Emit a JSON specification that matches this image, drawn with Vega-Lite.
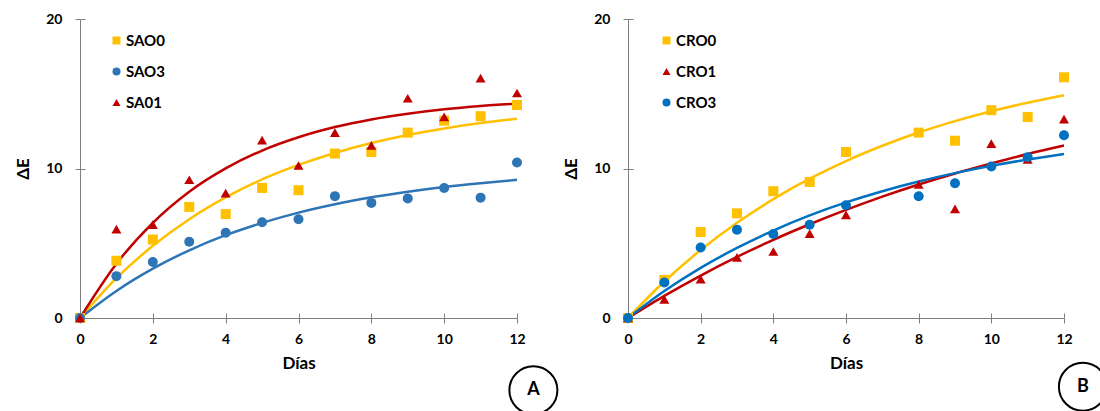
{
  "$schema": "https://vega.github.io/schema/vega-lite/v6.json",
  "background": "white",
  "padding": {"left": 14, "top": 12, "right": 0, "bottom": 0},
  "bounds": "flush",
  "spacing": 111,
  "config": {
    "font": "Lato",
    "view": {"stroke": null},
    "axis": {"grid": false, "domainColor": "#7f7f7f", "tickColor": "#7f7f7f", "labelColor": "black", "titleColor": "black", "labelFontWeight": "bold", "titleFontWeight": "bold"},
    "legend": {"title": null, "labelFontSize": 15, "labelFontWeight": "bold", "labelColor": "black", "symbolSize": 64, "rowPadding": 15, "labelOffset": 2, "symbolStrokeWidth": 0}
  },
  "datasets": {
    "pts": [
      {"panel": "A", "series": "SAO0", "day": 0, "val": 0},
      {"panel": "A", "series": "SAO0", "day": 1, "val": 3.83},
      {"panel": "A", "series": "SAO0", "day": 2, "val": 5.25},
      {"panel": "A", "series": "SAO0", "day": 3, "val": 7.43},
      {"panel": "A", "series": "SAO0", "day": 4, "val": 6.95},
      {"panel": "A", "series": "SAO0", "day": 5, "val": 8.7},
      {"panel": "A", "series": "SAO0", "day": 6, "val": 8.55},
      {"panel": "A", "series": "SAO0", "day": 7, "val": 11.0},
      {"panel": "A", "series": "SAO0", "day": 8, "val": 11.1},
      {"panel": "A", "series": "SAO0", "day": 9, "val": 12.4},
      {"panel": "A", "series": "SAO0", "day": 10, "val": 13.2},
      {"panel": "A", "series": "SAO0", "day": 11, "val": 13.5},
      {"panel": "A", "series": "SAO0", "day": 12, "val": 14.25},
      {"panel": "A", "series": "SAO3", "day": 0, "val": 0},
      {"panel": "A", "series": "SAO3", "day": 1, "val": 2.8},
      {"panel": "A", "series": "SAO3", "day": 2, "val": 3.75},
      {"panel": "A", "series": "SAO3", "day": 3, "val": 5.1},
      {"panel": "A", "series": "SAO3", "day": 4, "val": 5.7},
      {"panel": "A", "series": "SAO3", "day": 5, "val": 6.4},
      {"panel": "A", "series": "SAO3", "day": 6, "val": 6.6},
      {"panel": "A", "series": "SAO3", "day": 7, "val": 8.15},
      {"panel": "A", "series": "SAO3", "day": 8, "val": 7.7},
      {"panel": "A", "series": "SAO3", "day": 9, "val": 8.0},
      {"panel": "A", "series": "SAO3", "day": 10, "val": 8.7},
      {"panel": "A", "series": "SAO3", "day": 11, "val": 8.05},
      {"panel": "A", "series": "SAO3", "day": 12, "val": 10.4},
      {"panel": "A", "series": "SA01", "day": 0, "val": 0},
      {"panel": "A", "series": "SA01", "day": 1, "val": 5.95},
      {"panel": "A", "series": "SA01", "day": 2, "val": 6.25},
      {"panel": "A", "series": "SA01", "day": 3, "val": 9.25},
      {"panel": "A", "series": "SA01", "day": 4, "val": 8.35},
      {"panel": "A", "series": "SA01", "day": 5, "val": 11.9},
      {"panel": "A", "series": "SA01", "day": 6, "val": 10.2},
      {"panel": "A", "series": "SA01", "day": 7, "val": 12.4},
      {"panel": "A", "series": "SA01", "day": 8, "val": 11.55},
      {"panel": "A", "series": "SA01", "day": 9, "val": 14.7},
      {"panel": "A", "series": "SA01", "day": 10, "val": 13.45},
      {"panel": "A", "series": "SA01", "day": 11, "val": 16.05},
      {"panel": "A", "series": "SA01", "day": 12, "val": 15.05},
      {"panel": "B", "series": "CRO0", "day": 0, "val": 0},
      {"panel": "B", "series": "CRO0", "day": 1, "val": 2.55},
      {"panel": "B", "series": "CRO0", "day": 2, "val": 5.75},
      {"panel": "B", "series": "CRO0", "day": 3, "val": 7.0},
      {"panel": "B", "series": "CRO0", "day": 4, "val": 8.48},
      {"panel": "B", "series": "CRO0", "day": 5, "val": 9.1},
      {"panel": "B", "series": "CRO0", "day": 6, "val": 11.1},
      {"panel": "B", "series": "CRO0", "day": 8, "val": 12.4},
      {"panel": "B", "series": "CRO0", "day": 9, "val": 11.86},
      {"panel": "B", "series": "CRO0", "day": 10, "val": 13.9},
      {"panel": "B", "series": "CRO0", "day": 11, "val": 13.44},
      {"panel": "B", "series": "CRO0", "day": 12, "val": 16.1},
      {"panel": "B", "series": "CRO1", "day": 0, "val": 0},
      {"panel": "B", "series": "CRO1", "day": 1, "val": 1.25},
      {"panel": "B", "series": "CRO1", "day": 2, "val": 2.6},
      {"panel": "B", "series": "CRO1", "day": 3, "val": 4.05},
      {"panel": "B", "series": "CRO1", "day": 4, "val": 4.45},
      {"panel": "B", "series": "CRO1", "day": 5, "val": 5.64},
      {"panel": "B", "series": "CRO1", "day": 6, "val": 6.9},
      {"panel": "B", "series": "CRO1", "day": 8, "val": 8.93},
      {"panel": "B", "series": "CRO1", "day": 9, "val": 7.3},
      {"panel": "B", "series": "CRO1", "day": 10, "val": 11.66},
      {"panel": "B", "series": "CRO1", "day": 11, "val": 10.6},
      {"panel": "B", "series": "CRO1", "day": 12, "val": 13.3},
      {"panel": "B", "series": "CRO3", "day": 0, "val": 0},
      {"panel": "B", "series": "CRO3", "day": 1, "val": 2.37},
      {"panel": "B", "series": "CRO3", "day": 2, "val": 4.72},
      {"panel": "B", "series": "CRO3", "day": 3, "val": 5.9},
      {"panel": "B", "series": "CRO3", "day": 4, "val": 5.62},
      {"panel": "B", "series": "CRO3", "day": 5, "val": 6.24},
      {"panel": "B", "series": "CRO3", "day": 6, "val": 7.54},
      {"panel": "B", "series": "CRO3", "day": 8, "val": 8.14},
      {"panel": "B", "series": "CRO3", "day": 9, "val": 9.01},
      {"panel": "B", "series": "CRO3", "day": 10, "val": 10.13},
      {"panel": "B", "series": "CRO3", "day": 11, "val": 10.76},
      {"panel": "B", "series": "CRO3", "day": 12, "val": 12.23}
    ],
    "fit": [
      {"panel": "A", "series": "SAO0", "day": 0, "val": 0},
      {"panel": "A", "series": "SAO0", "day": 1, "val": 2.66},
      {"panel": "A", "series": "SAO0", "day": 2, "val": 4.83},
      {"panel": "A", "series": "SAO0", "day": 3, "val": 6.61},
      {"panel": "A", "series": "SAO0", "day": 4, "val": 8.07},
      {"panel": "A", "series": "SAO0", "day": 5, "val": 9.27},
      {"panel": "A", "series": "SAO0", "day": 6, "val": 10.24},
      {"panel": "A", "series": "SAO0", "day": 7, "val": 11.04},
      {"panel": "A", "series": "SAO0", "day": 8, "val": 11.7},
      {"panel": "A", "series": "SAO0", "day": 9, "val": 12.24},
      {"panel": "A", "series": "SAO0", "day": 10, "val": 12.68},
      {"panel": "A", "series": "SAO0", "day": 11, "val": 13.04},
      {"panel": "A", "series": "SAO0", "day": 12, "val": 13.33},
      {"panel": "A", "series": "SAO3", "day": 0, "val": 0},
      {"panel": "A", "series": "SAO3", "day": 1, "val": 1.81},
      {"panel": "A", "series": "SAO3", "day": 2, "val": 3.3},
      {"panel": "A", "series": "SAO3", "day": 3, "val": 4.53},
      {"panel": "A", "series": "SAO3", "day": 4, "val": 5.54},
      {"panel": "A", "series": "SAO3", "day": 5, "val": 6.36},
      {"panel": "A", "series": "SAO3", "day": 6, "val": 7.05},
      {"panel": "A", "series": "SAO3", "day": 7, "val": 7.61},
      {"panel": "A", "series": "SAO3", "day": 8, "val": 8.07},
      {"panel": "A", "series": "SAO3", "day": 9, "val": 8.45},
      {"panel": "A", "series": "SAO3", "day": 10, "val": 8.77},
      {"panel": "A", "series": "SAO3", "day": 11, "val": 9.02},
      {"panel": "A", "series": "SAO3", "day": 12, "val": 9.24},
      {"panel": "A", "series": "SA01", "day": 0, "val": 0},
      {"panel": "A", "series": "SA01", "day": 1, "val": 3.63},
      {"panel": "A", "series": "SA01", "day": 2, "val": 6.37},
      {"panel": "A", "series": "SA01", "day": 3, "val": 8.45},
      {"panel": "A", "series": "SA01", "day": 4, "val": 10.01},
      {"panel": "A", "series": "SA01", "day": 5, "val": 11.2},
      {"panel": "A", "series": "SA01", "day": 6, "val": 12.09},
      {"panel": "A", "series": "SA01", "day": 7, "val": 12.77},
      {"panel": "A", "series": "SA01", "day": 8, "val": 13.28},
      {"panel": "A", "series": "SA01", "day": 9, "val": 13.66},
      {"panel": "A", "series": "SA01", "day": 10, "val": 13.96},
      {"panel": "A", "series": "SA01", "day": 11, "val": 14.18},
      {"panel": "A", "series": "SA01", "day": 12, "val": 14.34},
      {"panel": "B", "series": "CRO0", "day": 0, "val": 0},
      {"panel": "B", "series": "CRO0", "day": 1, "val": 2.44},
      {"panel": "B", "series": "CRO0", "day": 2, "val": 4.55},
      {"panel": "B", "series": "CRO0", "day": 3, "val": 6.37},
      {"panel": "B", "series": "CRO0", "day": 4, "val": 7.95},
      {"panel": "B", "series": "CRO0", "day": 5, "val": 9.32},
      {"panel": "B", "series": "CRO0", "day": 6, "val": 10.5},
      {"panel": "B", "series": "CRO0", "day": 7, "val": 11.52},
      {"panel": "B", "series": "CRO0", "day": 8, "val": 12.41},
      {"panel": "B", "series": "CRO0", "day": 9, "val": 13.17},
      {"panel": "B", "series": "CRO0", "day": 10, "val": 13.83},
      {"panel": "B", "series": "CRO0", "day": 11, "val": 14.4},
      {"panel": "B", "series": "CRO0", "day": 12, "val": 14.9},
      {"panel": "B", "series": "CRO1", "day": 0, "val": 0},
      {"panel": "B", "series": "CRO1", "day": 1, "val": 1.48},
      {"panel": "B", "series": "CRO1", "day": 2, "val": 2.84},
      {"panel": "B", "series": "CRO1", "day": 3, "val": 4.09},
      {"panel": "B", "series": "CRO1", "day": 4, "val": 5.23},
      {"panel": "B", "series": "CRO1", "day": 5, "val": 6.27},
      {"panel": "B", "series": "CRO1", "day": 6, "val": 7.23},
      {"panel": "B", "series": "CRO1", "day": 7, "val": 8.12},
      {"panel": "B", "series": "CRO1", "day": 8, "val": 8.93},
      {"panel": "B", "series": "CRO1", "day": 9, "val": 9.67},
      {"panel": "B", "series": "CRO1", "day": 10, "val": 10.34},
      {"panel": "B", "series": "CRO1", "day": 11, "val": 10.97},
      {"panel": "B", "series": "CRO1", "day": 12, "val": 11.54},
      {"panel": "B", "series": "CRO3", "day": 0, "val": 0},
      {"panel": "B", "series": "CRO3", "day": 1, "val": 1.8},
      {"panel": "B", "series": "CRO3", "day": 2, "val": 3.35},
      {"panel": "B", "series": "CRO3", "day": 3, "val": 4.69},
      {"panel": "B", "series": "CRO3", "day": 4, "val": 5.85},
      {"panel": "B", "series": "CRO3", "day": 5, "val": 6.86},
      {"panel": "B", "series": "CRO3", "day": 6, "val": 7.73},
      {"panel": "B", "series": "CRO3", "day": 7, "val": 8.48},
      {"panel": "B", "series": "CRO3", "day": 8, "val": 9.13},
      {"panel": "B", "series": "CRO3", "day": 9, "val": 9.69},
      {"panel": "B", "series": "CRO3", "day": 10, "val": 10.18},
      {"panel": "B", "series": "CRO3", "day": 11, "val": 10.6},
      {"panel": "B", "series": "CRO3", "day": 12, "val": 10.97}
    ]
  },
  "hconcat": [
    {
      "width": 437,
      "height": 299,
      "resolve": {"axis": {"x": "independent", "y": "independent"}},
      "layer": [
        {
          "data": {"name": "fit"},
          "transform": [{"filter": "datum.panel === 'A' && datum.series === 'SAO0'"}],
          "mark": {"type": "line", "strokeWidth": 2.5, "interpolate": "monotone", "color": "#FFC000"},
          "encoding": {
            "x": {"field": "day", "type": "quantitative", "scale": {"domain": [0, 12], "nice": false},
              "axis": {"orient": "bottom", "values": [0, 2, 4, 6, 8, 10, 12], "title": "Días", "titleFontSize": 17, "titlePadding": 9, "labelFontSize": 14, "labelPadding": 9, "tickSize": 5, "labelFlush": false}},
            "y": {"field": "val", "type": "quantitative", "scale": {"domain": [0, 20], "nice": false},
              "axis": {"orient": "left", "values": [0, 10, 20], "title": "ΔE", "titleFontSize": 17, "titlePadding": 13, "labelFontSize": 14, "labelPadding": 13, "tickSize": 5, "labelFlush": false}}
          }
        },
        {
          "data": {"name": "fit"},
          "transform": [{"filter": "datum.panel === 'A' && datum.series === 'SAO3'"}],
          "mark": {"type": "line", "strokeWidth": 2.5, "interpolate": "monotone", "color": "#2E75B6"},
          "encoding": {
            "x": {"field": "day", "type": "quantitative", "axis": null},
            "y": {"field": "val", "type": "quantitative", "axis": null}
          }
        },
        {
          "data": {"name": "fit"},
          "transform": [{"filter": "datum.panel === 'A' && datum.series === 'SA01'"}],
          "mark": {"type": "line", "strokeWidth": 2.5, "interpolate": "monotone", "color": "#C00000"},
          "encoding": {
            "x": {"field": "day", "type": "quantitative", "axis": null},
            "y": {"field": "val", "type": "quantitative", "axis": null}
          }
        },
        {
          "data": {"name": "pts"},
          "transform": [{"filter": "datum.panel === 'A'"}],
          "mark": {"type": "point", "filled": true, "size": 100, "opacity": 1},
          "encoding": {
            "x": {"field": "day", "type": "quantitative",
              "axis": {"orient": "bottom", "values": [0, 2, 4, 6, 8, 10, 12], "tickSize": -5, "labels": false, "domain": false, "title": null}},
            "y": {"field": "val", "type": "quantitative",
              "axis": {"orient": "left", "values": [0, 10, 20], "tickSize": -5, "labels": false, "domain": false, "title": null}},
            "color": {"field": "series", "type": "nominal", "scale": {"domain": ["SAO0", "SAO3", "SA01"], "range": ["#FFC000", "#2E75B6", "#C00000"]},
              "legend": {"orient": "none", "legendX": 29, "legendY": 14}},
            "shape": {"field": "series", "type": "nominal", "scale": {"domain": ["SAO0", "SAO3", "SA01"], "range": ["square", "circle", "triangle-up"]},
              "legend": {"orient": "none", "legendX": 29, "legendY": 14}}
          }
        },
        {
          "data": {"values": [{}]},
          "mark": {"type": "point", "shape": "circle", "size": 2304, "filled": false, "stroke": "black", "strokeWidth": 2, "opacity": 1},
          "encoding": {
            "x": {"datum": 12.45, "type": "quantitative", "axis": null},
            "y": {"datum": -4.83, "type": "quantitative", "axis": null}
          }
        },
        {
          "data": {"values": [{}]},
          "mark": {"type": "text", "text": "A", "fontSize": 18, "fontWeight": "bold", "color": "black"},
          "encoding": {
            "x": {"datum": 12.45, "type": "quantitative", "axis": null},
            "y": {"datum": -4.83, "type": "quantitative", "axis": null}
          }
        }
      ]
    },
    {
      "width": 436,
      "height": 299,
      "resolve": {"axis": {"x": "independent", "y": "independent"}},
      "layer": [
        {
          "data": {"name": "fit"},
          "transform": [{"filter": "datum.panel === 'B' && datum.series === 'CRO0'"}],
          "mark": {"type": "line", "strokeWidth": 2.5, "interpolate": "monotone", "color": "#FFC000"},
          "encoding": {
            "x": {"field": "day", "type": "quantitative", "scale": {"domain": [0, 12], "nice": false},
              "axis": {"orient": "bottom", "values": [0, 2, 4, 6, 8, 10, 12], "title": "Días", "titleFontSize": 17, "titlePadding": 9, "labelFontSize": 14, "labelPadding": 9, "tickSize": 5, "labelFlush": false}},
            "y": {"field": "val", "type": "quantitative", "scale": {"domain": [0, 20], "nice": false},
              "axis": {"orient": "left", "values": [0, 10, 20], "title": "ΔE", "titleFontSize": 17, "titlePadding": 13, "labelFontSize": 14, "labelPadding": 13, "tickSize": 5, "labelFlush": false}}
          }
        },
        {
          "data": {"name": "fit"},
          "transform": [{"filter": "datum.panel === 'B' && datum.series === 'CRO1'"}],
          "mark": {"type": "line", "strokeWidth": 2.5, "interpolate": "monotone", "color": "#C00000"},
          "encoding": {
            "x": {"field": "day", "type": "quantitative", "axis": null},
            "y": {"field": "val", "type": "quantitative", "axis": null}
          }
        },
        {
          "data": {"name": "fit"},
          "transform": [{"filter": "datum.panel === 'B' && datum.series === 'CRO3'"}],
          "mark": {"type": "line", "strokeWidth": 2.5, "interpolate": "monotone", "color": "#0070C0"},
          "encoding": {
            "x": {"field": "day", "type": "quantitative", "axis": null},
            "y": {"field": "val", "type": "quantitative", "axis": null}
          }
        },
        {
          "data": {"name": "pts"},
          "transform": [{"filter": "datum.panel === 'B'"}],
          "mark": {"type": "point", "filled": true, "size": 100, "opacity": 1},
          "encoding": {
            "x": {"field": "day", "type": "quantitative",
              "axis": {"orient": "bottom", "values": [0, 2, 4, 6, 8, 10, 12], "tickSize": -5, "labels": false, "domain": false, "title": null}},
            "y": {"field": "val", "type": "quantitative",
              "axis": {"orient": "left", "values": [0, 10, 20], "tickSize": -5, "labels": false, "domain": false, "title": null}},
            "color": {"field": "series", "type": "nominal", "scale": {"domain": ["CRO0", "CRO1", "CRO3"], "range": ["#FFC000", "#C00000", "#0070C0"]},
              "legend": {"orient": "none", "legendX": 31, "legendY": 14}},
            "shape": {"field": "series", "type": "nominal", "scale": {"domain": ["CRO0", "CRO1", "CRO3"], "range": ["square", "triangle-up", "circle"]},
              "legend": {"orient": "none", "legendX": 31, "legendY": 14}}
          }
        },
        {
          "data": {"values": [{}]},
          "mark": {"type": "point", "shape": "circle", "size": 2304, "filled": false, "stroke": "black", "strokeWidth": 2, "opacity": 1},
          "encoding": {
            "x": {"datum": 12.52, "type": "quantitative", "axis": null},
            "y": {"datum": -4.6, "type": "quantitative", "axis": null}
          }
        },
        {
          "data": {"values": [{}]},
          "mark": {"type": "text", "text": "B", "fontSize": 18, "fontWeight": "bold", "color": "black"},
          "encoding": {
            "x": {"datum": 12.52, "type": "quantitative", "axis": null},
            "y": {"datum": -4.6, "type": "quantitative", "axis": null}
          }
        }
      ]
    }
  ],
  "resolve": {"scale": {"color": "independent", "shape": "independent"}, "legend": {"color": "independent", "shape": "independent"}}
}
